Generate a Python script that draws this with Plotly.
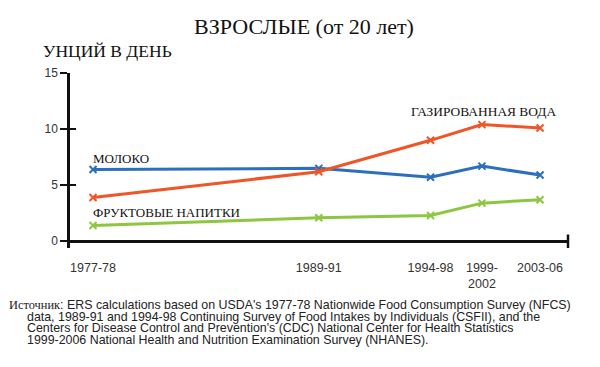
import plotly.graph_objects as go

# Data
periods = ["1977-78", "1989-91", "1994-98", "1999-<br>2002", "2003-06"]
period_pos = [0, 10.1, 15.1, 17.4, 20]  # relative time positions on the x scale
milk = [6.4, 6.5, 5.7, 6.7, 5.9]
soda = [3.9, 6.2, 9.0, 10.4, 10.1]
fruit = [1.4, 2.1, 2.3, 3.4, 3.7]
y_ticks = [0, 5, 10, 15]

series = [
    ("МОЛОКО", milk, "#2b6fbe"),
    ("ГАЗИРОВАННАЯ ВОДА", soda, "#ef5527"),
    ("ФРУКТОВЫЕ НАПИТКИ", fruit, "#8dc63f"),
]

SERIF = '"Liberation Serif", "Times New Roman", serif'
SANS = '"Liberation Sans", Arial, sans-serif'

W, H = 584, 351  # page body has an 8px margin

fig = go.Figure()
for name, vals, col in series:
    fig.add_trace(go.Scatter(
        x=period_pos, y=vals, mode="lines+markers", name=name,
        line=dict(color=col, width=3),
        marker=dict(symbol="x-thin", size=7, line=dict(width=2, color=col), color=col),
        showlegend=False, hoverinfo="skip",
    ))
# invisible trace to host the inner tick half on an overlay axis
fig.add_trace(go.Scatter(x=[period_pos[0]], y=[0], yaxis="y2", mode="markers",
                         marker=dict(opacity=0), showlegend=False, hoverinfo="skip"))

xr = [-1.03, 21.25]
yr = [-0.6, 15]

fig.update_layout(
    width=W, height=H,
    margin=dict(l=62, r=24, t=65, b=111.3, autoexpand=False),
    paper_bgcolor="white", plot_bgcolor="white",
    title=dict(text="ВЗРОСЛЫЕ (от 20 лет)", x=(304 - 8) / W, xanchor="center",
               y=1 - 18 / H, yanchor="middle", xref="container", yref="container",
               font=dict(family=SERIF, size=22, color="#111")),
    xaxis=dict(range=xr, tickvals=period_pos, ticktext=periods, showgrid=False,
               showline=False, zeroline=False, ticks="", ticklabelstandoff=10,
               tickfont=dict(family=SANS, size=12.5, color="#333"), automargin=False),
    yaxis=dict(range=yr, tickvals=y_ticks, showgrid=False, showline=True,
               linecolor="#111", linewidth=2.5, ticks="outside", ticklen=7,
               tickwidth=2, tickcolor="#111", zeroline=True, zerolinecolor="#111",
               zerolinewidth=2.5, automargin=False,
               tickfont=dict(family=SANS, size=12, color="#333")),
    yaxis2=dict(range=yr, tickvals=y_ticks, overlaying="y", side="left",
                showgrid=False, showline=False, zeroline=False, ticks="inside",
                ticklen=6, tickwidth=2, tickcolor="#111", showticklabels=False),
)

# end tick of x axis
fig.add_shape(type="line", xref="x domain", yref="y", x0=1, x1=1, y0=-0.6, y1=0.6,
              line=dict(color="#111", width=2.5))

def ann(text, x, y, xref, yref, size, family, xanchor="left", color="#111"):
    fig.add_annotation(text=text, x=x, y=y, xref=xref, yref=yref, showarrow=False,
                       xanchor=xanchor, yanchor="middle", borderpad=0,
                       font=dict(family=family, size=size, color=color))

# series labels
ann("МОЛОКО", -0.05, 7.4, "x", "y", 13, SERIF)
ann("ФРУКТОВЫЕ НАПИТКИ", -0.05, 2.6, "x", "y", 13, SERIF)
ann("ГАЗИРОВАННАЯ ВОДА", 14.18, 11.6, "x", "y", 13.4, SERIF)

def py(p):
    return (247.7 - p) / 174.7

def px(p):
    return (p - 70) / 498

ann("УНЦИЙ В ДЕНЬ", px(42), py(51), "paper", "paper", 17.5, SERIF)

src_lines = [
    "<span style=\"font-family:'Liberation Serif', serif\">Источник</span>: ERS calculations based on USDA's 1977-78 Nationwide Food Consumption Survey (NFCS)",
    "data, 1989-91 and 1994-98 Continuing Survey of Food Intakes by Individuals (CSFII), and the",
    "Centers for Disease Control and Prevention's (CDC) National Center for Health Statistics",
    "1999-2006 National Health and Nutrition Examination Survey (NHANES).",
]
src_y = [305, 316.5, 328, 339.5]
src_x = [8, 26, 26, 26]
for t, yy, xx in zip(src_lines, src_y, src_x):
    ann(t, px(xx), py(yy), "paper", "paper", 12.4, SANS, color="#222")

fig.write_html("out.html")
